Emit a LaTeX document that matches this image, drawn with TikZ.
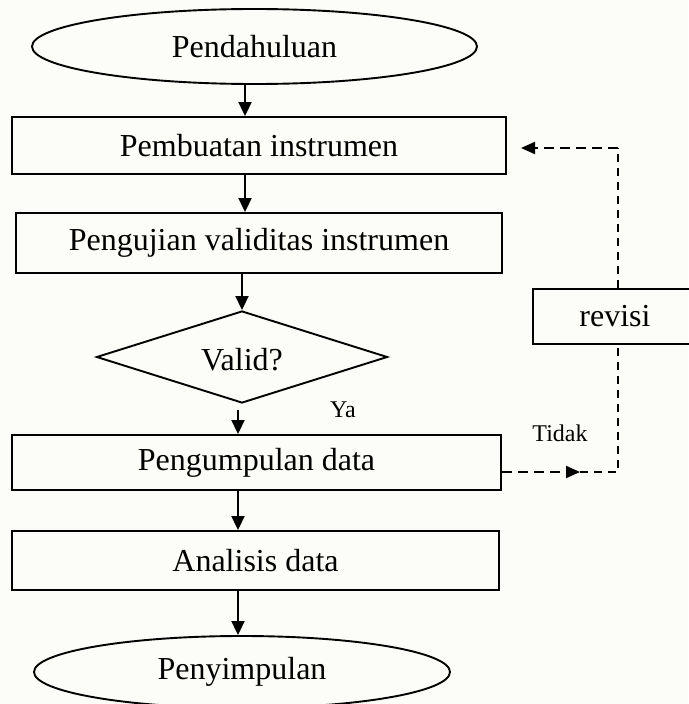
\documentclass[tikz,border=0pt]{standalone}
\usepackage{fontspec}
\setmainfont{Liberation Serif}
\usetikzlibrary{shapes.geometric,arrows.meta,calc}
\definecolor{bgc}{RGB}{252,252,248}
\begin{document}
\begin{tikzpicture}[x=1pt,y=-1pt,
  every node/.style={font=\fontsize{32}{38}\selectfont, inner sep=0pt},
  box/.style={draw, line width=1.9pt, rectangle},
  oval/.style={draw, line width=1.9pt, ellipse},
  dia/.style={draw, line width=1.9pt, diamond, aspect=3.16},
  lbl/.style={font=\fontsize{24}{28}\selectfont},
  arr/.style={line width=1.9pt, -{Triangle[length=14pt,width=13pt]}},
  dh/.style={line width=1.9pt, dash pattern=on 10pt off 6pt},
  dv/.style={line width=1.4pt, dash pattern=on 8pt off 6pt},
  tip/.style={-{Triangle[length=14pt,width=12pt]}}
]
\fill[bgc] (0,0) rectangle (688,704);
\useasboundingbox (0,0) rectangle (688,704);

\node[oval, minimum width=445pt, minimum height=75pt] (start) at (254.5,46.5) {Pendahuluan};
\node[box, minimum width=494pt, minimum height=57pt] (b1) at (259,145.5) {Pembuatan instrumen};
\node[box, minimum width=486pt, minimum height=60pt] (b2) at (259,243) {Pengujian validitas instrumen};
\node[dia, minimum width=291pt, minimum height=92pt] (d) at (242,357) {};
\node (dt) at (242,360) {Valid?};
\node[box, minimum width=489pt, minimum height=55pt] (b3) at (256.5,462.5) {Pengumpulan data};
\node[box, minimum width=487pt, minimum height=59pt] (b4) at (255.5,560.5) {Analisis data};
\node[oval, minimum width=416pt, minimum height=72pt] (end) at (242,672) {Penyimpulan};
\node[box, minimum width=164pt, minimum height=55pt] (rev) at (615,316.5) {revisi};

\node[lbl] (ya) at (343,410) {Ya};
\node[lbl] (tidak) at (560,433) {Tidak};

\coordinate (xa) at (245,0);
\coordinate (xb) at (238,0);
\coordinate (ys) at (0,410);
\coordinate (c1) at (618,472);
\coordinate (m1) at (580,472);
\coordinate (c2) at (618,148);
\coordinate (t2) at (521,148);

\draw[arr] (xa |- start.south) -- (xa |- b1.north);
\draw[arr] (xa |- b1.south) -- (xa |- b2.north);
\draw[arr] (d.north |- b2.south) -- (d.north);
\draw[arr] (xb |- ys) -- (xb |- b3.north);
\draw[arr] (xb |- b3.south) -- (xb |- b4.north);
\draw[arr] (xb |- b4.south) -- (xb |- end.north);

\draw[dh, tip] (b3.east |- c1) -- (m1);
\draw[dv] (m1) -- (c1) -- (c1 |- rev.south);
\draw[dv] (c2 |- rev.north) -- (c2);
\draw[dh, tip] (c2) -- (t2);
\end{tikzpicture}
\end{document}
